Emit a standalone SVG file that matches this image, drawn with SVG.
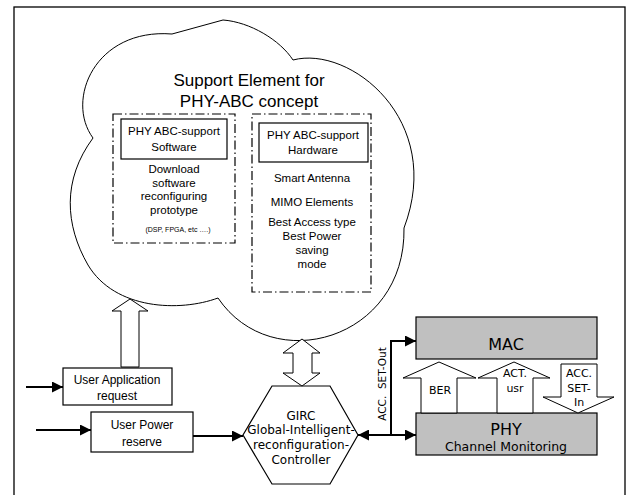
<svg xmlns="http://www.w3.org/2000/svg" width="632" height="495" viewBox="0 0 632 495">
<defs>
<style>
.ln{fill:none;stroke:#000;stroke-width:1}
.box{fill:#fff;stroke:#000;stroke-width:1.2}
.gbox{fill:#c0c0c0;stroke:#000;stroke-width:1.2}
.dd{fill:none;stroke:#000;stroke-width:1.2;stroke-dasharray:9,3,1.5,3}
.ha{fill:#fff;stroke:#000;stroke-width:1}
.ar{fill:none;stroke:#000;stroke-width:2}
.a{font-family:"Liberation Sans",Arial,sans-serif;fill:#000;text-anchor:middle}
.v{font-family:"DejaVu Sans",Verdana,sans-serif;fill:#000;text-anchor:middle}
</style>
<marker id="ah" viewBox="0 0 10 10" refX="10" refY="5" markerWidth="5.5" markerHeight="5.5" markerUnits="strokeWidth" orient="auto-start-reverse">
<path d="M0,0 L10,5 L0,10 z" fill="#000"/>
</marker>
</defs>
<rect x="0" y="0" width="632" height="495" fill="#fff"/>
<rect x="14" y="7" width="611" height="495" fill="none" stroke="#000" stroke-width="1.3"/>

<g id="cloud">
<path class="ln" fill="#fff" d="M93,138 C65,100 95,28 172,34 L223,20 C250,22 280,40 293,60 C350,45 445,120 404,228 C406,340 272,378 218,298 C180,312 115,310 88,265 C65,225 62,180 93,138 Z"/>
<text class="a" x="249" y="86" font-size="17">Support Element for</text>
<text class="a" x="249" y="107" font-size="17">PHY-ABC concept</text>
</g>

<g id="software">
<rect class="dd" x="113" y="114" width="122" height="129"/>
<rect class="box" x="121" y="119" width="106" height="40"/>
<text class="a" x="174" y="135" font-size="11.5">PHY ABC-support</text>
<text class="a" x="174" y="151" font-size="11.5">Software</text>
<text class="a" x="174" y="173" font-size="11.5">Download</text>
<text class="a" x="174" y="186.5" font-size="11.5">software</text>
<text class="a" x="174" y="200" font-size="11.5">reconfiguring</text>
<text class="a" x="174" y="213.5" font-size="11.5">prototype</text>
<text class="a" x="178" y="232" font-size="7">(DSP, FPGA, etc ….)</text>
</g>

<g id="hardware">
<rect class="dd" x="252" y="114" width="119" height="178"/>
<rect class="box" x="259" y="123" width="109" height="39"/>
<text class="a" x="313" y="139" font-size="11.5">PHY ABC-support</text>
<text class="a" x="313" y="154" font-size="11.5">Hardware</text>
<text class="a" x="312" y="182" font-size="11.5">Smart Antenna</text>
<text class="a" x="312" y="206" font-size="11.5">MIMO Elements</text>
<text class="a" x="312" y="226" font-size="11.5">Best Access type</text>
<text class="a" x="312" y="240" font-size="11.5">Best Power</text>
<text class="a" x="312" y="254" font-size="11.5">saving</text>
<text class="a" x="312" y="268" font-size="11.5">mode</text>
</g>

<g id="userapp">
<rect class="box" x="63" y="368" width="109" height="37"/>
<text class="a" x="117" y="384" font-size="12">User Application</text>
<text class="a" x="117" y="400" font-size="12">request</text>
</g>

<g id="userpower">
<rect class="box" x="91" y="412" width="102" height="40"/>
<text class="a" x="142" y="429" font-size="12">User Power</text>
<text class="a" x="142" y="446" font-size="12">reserve</text>
</g>

<g id="girc">
<polygon class="box" points="243,435 272,386 330,386 358,435 330,484 272,484"/>
<text class="v" x="301" y="420" font-size="12">GIRC</text>
<text class="v" x="301" y="434" font-size="12">Global-Intelligent-</text>
<text class="v" x="301" y="449" font-size="12">reconfiguration-</text>
<text class="v" x="301" y="464" font-size="12">Controller</text>
</g>

<g id="mac">
<rect class="gbox" x="416" y="317" width="181" height="42"/>
<text class="v" x="506" y="350" font-size="16">MAC</text>
</g>

<g id="phy">
<rect class="gbox" x="416" y="413" width="181" height="42"/>
<text class="v" x="506" y="435" font-size="16">PHY</text>
<text class="v" x="506" y="451" font-size="12.5">Channel Monitoring</text>
</g>

<g id="connectors">
<polygon class="ha" points="121,367 121,311 112,311 130,299 148,311 139,311 139,367"/>
<polygon class="ha" points="302,339 320,353 312,353 312,373 320,373 302,386 283,373 293,373 293,353 283,353"/>
<line class="ar" x1="26" y1="387" x2="63" y2="387" marker-end="url(#ah)"/>
<line class="ar" x1="36" y1="430" x2="91" y2="430" marker-end="url(#ah)"/>
<line class="ar" x1="193" y1="436" x2="243" y2="436" marker-end="url(#ah)"/>
<line class="ar" x1="358" y1="435" x2="416" y2="435" marker-start="url(#ah)" marker-end="url(#ah)"/>
<polyline class="ar" points="391,435 391,341 416,341" marker-end="url(#ah)"/>
<text class="v" font-size="10.5" transform="translate(386,384) rotate(-90)" xml:space="preserve">ACC.  SET-Out</text>
<polygon class="ha" points="421,413 421,378 403,378 439,362 476,378 457,378 457,413"/>
<text class="v" x="440" y="394" font-size="11">BER</text>
<polygon class="ha" points="497,413 497,378 478,378 514,362 550,378 533,378 533,413"/>
<text class="v" x="515" y="377" font-size="11">ACT.</text>
<text class="v" x="515" y="392" font-size="11">usr</text>
<polygon class="ha" points="561,364 597,364 597,397 614,397 578,413 543,397 561,397"/>
<text class="v" x="579" y="377" font-size="11">ACC.</text>
<text class="v" x="579" y="392" font-size="11">SET-</text>
<text class="v" x="579" y="406" font-size="11">In</text>
</g>
</svg>
